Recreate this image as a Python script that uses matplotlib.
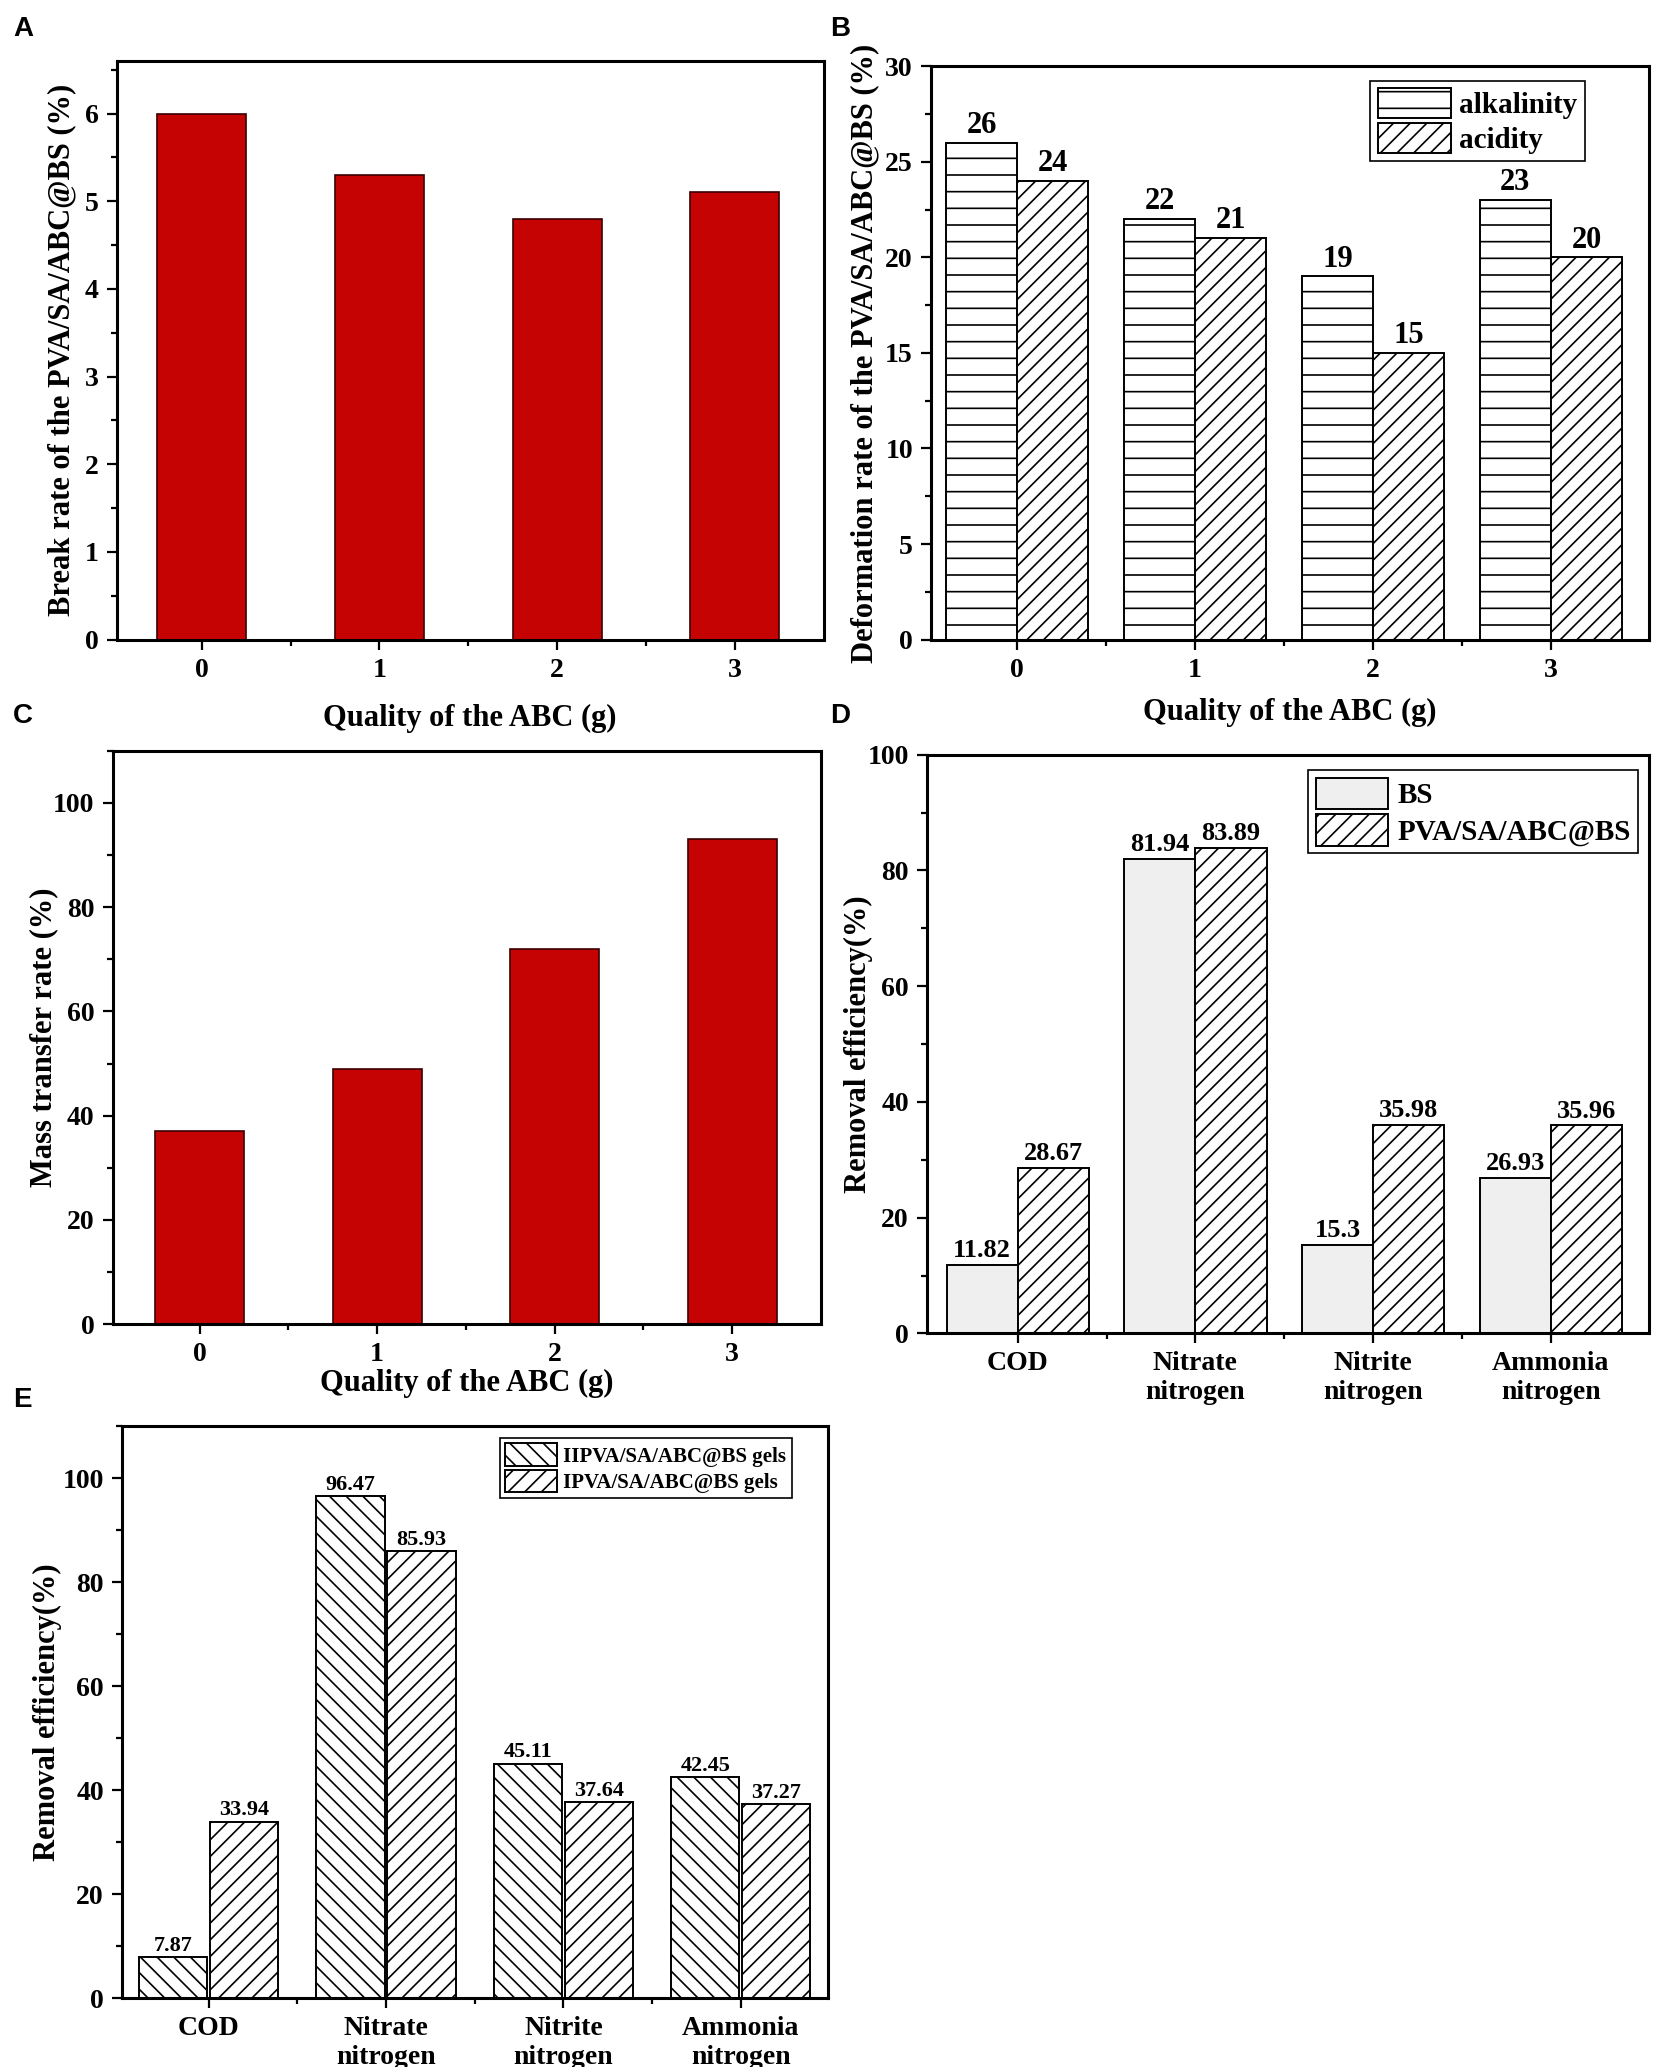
import matplotlib
matplotlib.use("Agg")
import matplotlib.pyplot as plt
from matplotlib.ticker import MultipleLocator, FixedLocator
import numpy as np

# ---------------- data ----------------
abc_quality = ["0", "1", "2", "3"]
break_rate = [6.0, 5.3, 4.8, 5.1]
deform_alkalinity = [26, 22, 19, 23]
deform_acidity = [24, 21, 15, 20]
mass_transfer = [37, 49, 72, 93]
pollutants = ["COD", "Nitrate\nnitrogen", "Nitrite\nnitrogen", "Ammonia\nnitrogen"]
removal_bs = [11.82, 81.94, 15.3, 26.93]
removal_pva = [28.67, 83.89, 35.98, 35.96]
removal_gel_II = [7.87, 96.47, 45.11, 42.45]
removal_gel_I = [33.94, 85.93, 37.64, 37.27]
removal_bs_labels = ["11.82", "81.94", "15.3", "26.93"]
removal_pva_labels = ["28.67", "83.89", "35.98", "35.96"]
removal_gel_II_labels = ["7.87", "96.47", "45.11", "42.45"]
removal_gel_I_labels = ["33.94", "85.93", "37.64", "37.27"]

SERIF = ["Liberation Serif", "DejaVu Serif"]
plt.rcParams["font.family"] = SERIF
plt.rcParams["font.weight"] = "bold"
plt.rcParams["axes.labelweight"] = "bold"
plt.rcParams["hatch.linewidth"] = 1.2
plt.rcParams["hatch.color"] = "black"

RED = "#C60303"
TICK_FS = 20
LABEL_FS = 22

fig = plt.figure(figsize=(16.54, 20.67), dpi=100)

W, H = 1249.0, 1561.0
def make_ax(l, r, t, b):
    return fig.add_axes([l / W, 1 - b / H, (r - l) / W, (b - t) / H])

def style(ax, ymajor, yminor):
    for s in ax.spines.values():
        s.set_linewidth(2.2)
    ax.yaxis.set_major_locator(MultipleLocator(ymajor))
    ax.yaxis.set_minor_locator(MultipleLocator(yminor))
    ax.xaxis.set_major_locator(FixedLocator([0, 1, 2, 3]))
    ax.xaxis.set_minor_locator(FixedLocator([0.5, 1.5, 2.5]))
    ax.tick_params(which="both", direction="out", top=False, right=False, width=1.6)
    ax.tick_params(which="major", length=7, labelsize=TICK_FS, pad=6)
    ax.tick_params(which="minor", length=4)
    for lab in ax.get_xticklabels() + ax.get_yticklabels():
        lab.set_fontweight("bold")

def legend(ax, anchor, fs, hh=1.3):
    leg = ax.legend(loc="upper right", bbox_to_anchor=anchor, fontsize=fs, frameon=True,
                    fancybox=False, edgecolor="black", framealpha=1, handlelength=2.5,
                    handleheight=hh, borderpad=0.25, labelspacing=0.15, handletextpad=0.3,
                    borderaxespad=0)
    leg.get_frame().set_linewidth(1.2)
    for t in leg.get_texts():
        t.set_fontweight("bold")
    return leg

x = np.arange(4)

# ---------------- A ----------------
axA = make_ax(88, 622, 46, 483)
axA.bar(x, break_rate, width=0.5, color=RED, edgecolor="#3a0000", linewidth=1.2)
axA.set_xlim(-0.48, 3.5)
axA.set_ylim(0, 6.6)
style(axA, 1, 0.5)
axA.set_xticks(x, abc_quality)
axA.set_xlabel("Quality of the ABC (g)", fontsize=LABEL_FS, labelpad=15)
axA.set_ylabel("Break rate of the PVA/SA/ABC@BS (%)", fontsize=LABEL_FS, labelpad=6)

# ---------------- B ----------------
axB = make_ax(703, 1245, 50, 483)
bw = 0.4
b1 = axB.bar(x - bw / 2, deform_alkalinity, width=bw, facecolor="white", edgecolor="black",
             linewidth=1.4, hatch="-", label="alkalinity")
b2 = axB.bar(x + bw / 2, deform_acidity, width=bw, facecolor="white", edgecolor="black",
             linewidth=1.4, hatch="//", label="acidity")
axB.bar_label(b1, labels=[str(v) for v in deform_alkalinity], padding=2, fontsize=22, fontweight="bold")
axB.bar_label(b2, labels=[str(v) for v in deform_acidity], padding=2, fontsize=22, fontweight="bold")
axB.set_xlim(-0.485, 3.55)
axB.set_ylim(0, 30)
style(axB, 5, 2.5)
axB.set_xticks(x, abc_quality)
axB.set_xlabel("Quality of the ABC (g)", fontsize=LABEL_FS, labelpad=11)
axB.set_ylabel("Deformation rate of the PVA/SA/ABC@BS (%)", fontsize=LABEL_FS, labelpad=4)
legend(axB, (0.911, 0.975), 21, hh=1.2)

# ---------------- C ----------------
axC = make_ax(85, 620, 567, 1000)
axC.bar(x, mass_transfer, width=0.5, color=RED, edgecolor="#3a0000", linewidth=1.2)
axC.set_xlim(-0.49, 3.5)
axC.set_ylim(0, 110)
style(axC, 20, 10)
axC.set_xticks(x, abc_quality)
axC.set_xlabel("Quality of the ABC (g)", fontsize=LABEL_FS, labelpad=1)
axC.set_ylabel("Mass transfer rate (%)", fontsize=LABEL_FS, labelpad=-4)

# ---------------- D ----------------
axD = make_ax(700, 1245, 570, 1007)
d1 = axD.bar(x - bw / 2, removal_bs, width=bw, facecolor="#efefef", edgecolor="black",
             linewidth=1.4, label="BS")
d2 = axD.bar(x + bw / 2, removal_pva, width=bw, facecolor="white", edgecolor="black",
             linewidth=1.4, hatch="//", label="PVA/SA/ABC@BS")
axD.bar_label(d1, labels=removal_bs_labels, padding=2, fontsize=19, fontweight="bold")
axD.bar_label(d2, labels=removal_pva_labels, padding=2, fontsize=19, fontweight="bold")
axD.set_xlim(-0.51, 3.55)
axD.set_ylim(0, 100)
style(axD, 20, 10)
axD.set_xticks(x, pollutants)
axD.set_ylabel("Removal efficiency(%)", fontsize=LABEL_FS, labelpad=-4)
legend(axD, (0.985, 0.973), 21)

# ---------------- E ----------------
axE = make_ax(92, 625, 1077, 1509)
ew = 0.385
e1 = axE.bar(x - 0.2, removal_gel_II, width=ew, facecolor="white", edgecolor="black",
             linewidth=1.4, hatch="\\\\", label="IIPVA/SA/ABC@BS gels")
e2 = axE.bar(x + 0.2, removal_gel_I, width=ew, facecolor="white", edgecolor="black",
             linewidth=1.4, hatch="//", label="IPVA/SA/ABC@BS gels")
axE.bar_label(e1, labels=removal_gel_II_labels, padding=1, fontsize=16, fontweight="bold")
axE.bar_label(e2, labels=removal_gel_I_labels, padding=1, fontsize=16, fontweight="bold")
axE.set_xlim(-0.49, 3.49)
axE.set_ylim(0, 110)
style(axE, 20, 10)
axE.set_xticks(x, pollutants)
axE.set_ylabel("Removal efficiency(%)", fontsize=LABEL_FS, labelpad=0)
legend(axE, (0.949, 0.979), 15)

# ---------------- panel letters ----------------
PL = ["Liberation Sans", "DejaVu Sans"]
for letter, px, py in [("A", 10, 22), ("B", 627, 22), ("C", 10, 541), ("D", 627, 541), ("E", 10, 1057)]:
    fig.text(px / W, 1 - py / H, letter, family=PL, fontsize=20, fontweight="bold",
             ha="left", va="center")

fig.savefig("out.png", dpi=100)
